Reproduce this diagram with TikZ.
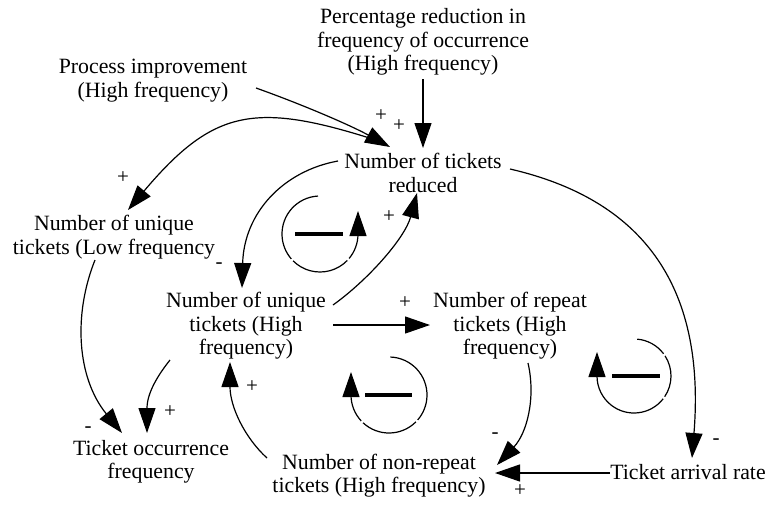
\documentclass[tikz,border=0pt]{standalone}
\usepackage{fontspec}
\setmainfont{Liberation Serif}
\usetikzlibrary{arrows.meta,calc}
\begin{document}
\begin{tikzpicture}[x=1pt,y=-1pt,
  var/.style={align=center, inner sep=0pt, font=\fontsize{21.8}{23.5}\selectfont},
  pol/.style={inner sep=0pt, font=\fontsize{21}{22}\selectfont},
  headarrow/.style={-{Triangle[length=25pt,width=17pt]}},
  link/.style={line width=1.2pt, headarrow},
  loopline/.style={line width=1.2pt},
  loopbar/.style={line width=3.5pt},
]
\useasboundingbox (0,0) rectangle (766,504);
\fill[white] (0,0) rectangle (766,504);

% variables
\node[var] (pct)    at (423,42)    {Percentage reduction in\\frequency of occurrence\\(High frequency)};
\node[var] (proc)   at (153,80.5)  {Process improvement\\(High frequency)};
\node[var] (red)    at (423,173)   {Number of tickets\\reduced};
\node[var] (low)    at (114,237)   {Number of unique\\tickets (Low frequency};
\node[var] (uhigh)  at (246,326)   {Number of unique\\tickets (High\\frequency)};
\node[var] (rep)    at (510,326)   {Number of repeat\\tickets (High\\frequency)};
\node[var] (occ)    at (151,462)   {Ticket occurrence\\frequency};
\node[var] (nonrep) at (379,475.5) {Number of non-repeat\\tickets (High frequency)};
\node[var] (arr)    at (688,472.5) {Ticket arrival rate};

% causal links
\draw[link] ($(pct.center)+(0,37)$) -- ($(red.center)+(0,-25)$);
\draw[link] ($(proc.center)+(103,7.5)$) .. controls +(45,16) and +(-40,-22) .. ($(red.center)+(-33,-26)$);
\draw[link] ($(red.center)+(-38,-30)$) .. controls +(-128,-42) and +(87,-103) .. ($(low.center)+(14,-27)$);
\draw[link] ($(red.center)+(-85,-12)$) .. controls +(-55,10) and +(2,-75) .. ($(uhigh.center)+(-4,-38)$);
\draw[link] ($(uhigh.center)+(87,-21)$) .. controls +(35,-25) and +(-12,45) .. ($(red.center)+(-6,20)$);
\draw[link] ($(uhigh.center)+(87,-1)$) -- ($(rep.center)+(-80,-1)$);
\draw[link] ($(rep.center)+(18,37)$) .. controls +(8,35) and +(30,-32) .. ($(nonrep.center)+(118,-10.5)$);
\draw[link] ($(red.center)+(87,-4)$) .. controls +(130,30) and +(14,-175) .. ($(arr.center)+(4,-14.5)$);
\draw[link] ($(arr.center)+(-78,0.5)$) -- ($(nonrep.center)+(116,-2.5)$);
\draw[link] ($(nonrep.center)+(-112,-17.5)$) .. controls +(-22,-20) and +(0,45) .. ($(uhigh.center)+(-16,36)$);
\draw[link] ($(low.center)+(-19,23)$) .. controls +(-22,55) and +(-45,-55) .. ($(occ.center)+(-29,-29)$);
\draw[link] ($(uhigh.center)+(-76,34)$) .. controls +(-12,15) and +(0,-40) .. ($(occ.center)+(-4,-29)$);

% link polarities
\node[pol] (s1)  at (381,116) {+};
\node[pol] (s2)  at (399,126) {+};
\node[pol] (s3)  at (123,178) {+};
\node[pol] (s4)  at (219,266) {-};
\node[pol] (s5)  at (389,217) {+};
\node[pol] (s6)  at (405,303) {+};
\node[pol] (s7)  at (495,436) {-};
\node[pol] (s8)  at (716,442) {-};
\node[pol] (s9)  at (520,491) {+};
\node[pol] (s10) at (252,387) {+};
\node[pol] (s11) at (88,430)  {-};
\node[pol] (s12) at (170,412) {+};

% loop markers
\coordinate (loopA) at (320,234);
\coordinate (loopB) at (389,395);
\coordinate (loopC) at (634,376);

\begin{scope}[shift={(loopA)}, yscale=-1]
  \draw[loopline] (93:38) arc[start angle=93, end angle=221, radius=38];
  \draw[loopline] (225:38) arc[start angle=225, end angle=316, radius=38];
  \draw[loopline] (320:38) arc[start angle=320, end angle=360, radius=38];
  \draw[loopline, headarrow] (38,0) -- (38,23);
  \draw[loopbar] (-25,0) -- (23,0);
\end{scope}

\begin{scope}[shift={(loopB)}, yscale=-1]
  \draw[loopline] (88:38) arc[start angle=88, end angle=-41, radius=38];
  \draw[loopline] (-45:38) arc[start angle=-45, end angle=-133, radius=38];
  \draw[loopline] (-137:38) arc[start angle=-137, end angle=-180, radius=38];
  \draw[loopline, headarrow] (-38,0) -- (-38,23);
  \draw[loopbar] (-24,0) -- (23,0);
\end{scope}

\begin{scope}[shift={(loopC)}, yscale=-1]
  \draw[loopline] (85:37) arc[start angle=85, end angle=37, radius=37];
  \draw[loopline] (33:37) arc[start angle=33, end angle=-34, radius=37];
  \draw[loopline] (-38:37) arc[start angle=-38, end angle=-180, radius=37];
  \draw[loopline, headarrow] (-37,0) -- (-37,24);
  \draw[loopbar] (-22,0) -- (26,0);
\end{scope}
\end{tikzpicture}
\end{document}
